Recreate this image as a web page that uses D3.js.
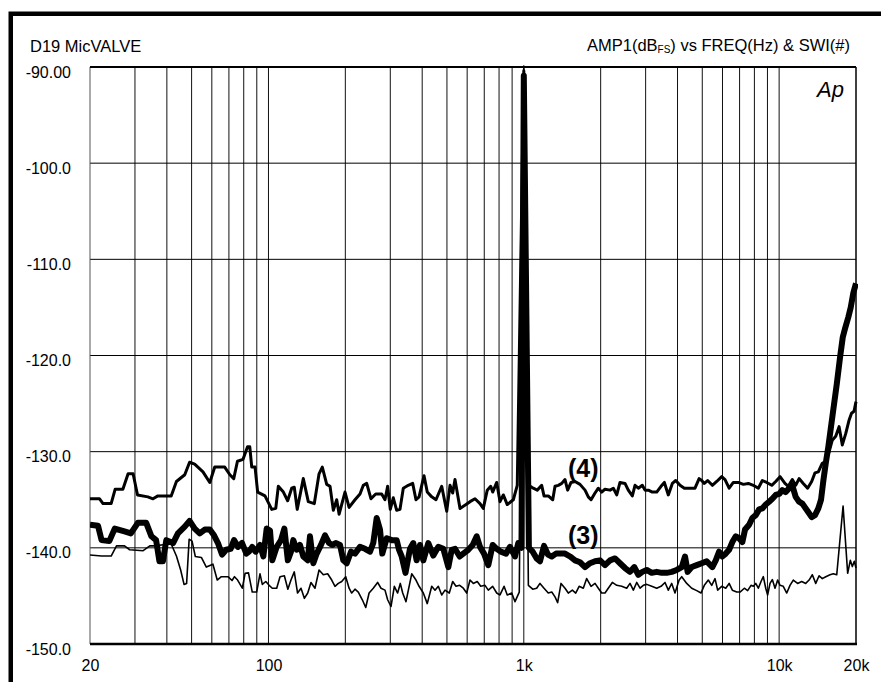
<!DOCTYPE html>
<html><head><meta charset="utf-8">
<script src="https://cdn.jsdelivr.net/npm/d3@7"></script>
<style>
html,body{margin:0;padding:0;background:#fff;}
svg{display:block;font-family:"Liberation Sans",Arial,Helvetica,sans-serif;}
</style></head><body>
<svg id="chart" width="881" height="682"></svg>
<script>
// ---------- data ----------
const chartTitle = "D19 MicVALVE";
const axisTitleA = "AMP1(dB", axisTitleSub = "FS", axisTitleB = ") vs FREQ(Hz) & SWI(#)";
const logoText = "Ap";
const xDomain = [20, 20000];
const yDomain = [-150, -90];
const xTicks = [20, 100, 1000, 10000, 20000];
const xTickLabels = ["20", "100", "1k", "10k", "20k"];
const xGridFreqs = [30,40,50,60,70,80,90,100,200,300,400,500,600,700,800,900,1000,2000,3000,4000,5000,6000,7000,8000,9000,10000];
const yTicks = [-90, -100, -110, -120, -130, -140, -150];
const yTickLabels = ["-90.00", "-100.0", "-110.0", "-120.0", "-130.0", "-140.0", "-150.0"];
const seriesLabels = ["(4)", "(3)"];
const seriesLabelHz = [1490, 1490];
const seriesLabelDb = [-132.6, -139.6];

// trace (3): [Hz, dBFS]
const trace3 = [[20,-137.6],[21.5,-137.7],[22.2,-139.2],[23.8,-139.3],[25.0,-138.0],[27.3,-138.3],[28.9,-138.5],[30.8,-137.4],[33.2,-137.4],[34.8,-138.8],[36.3,-139.2],[37.4,-141.4],[38.6,-141.4],[39.8,-139.2],[42.3,-139.5],[44.2,-138.5],[47.0,-137.8],[49.1,-137.2],[51.4,-138.0],[53.8,-138.5],[56.3,-138.1],[58.9,-138.1],[61.2,-138.7],[63.4,-139.5],[65.8,-140.7],[68.3,-140.2],[71.1,-140.1],[73.3,-139.2],[76.0,-139.9],[78.8,-139.5],[81.9,-140.6],[83.9,-140.4],[86.4,-139.9],[89.1,-140.4],[92.65,-139.7],[95.5,-140.9],[98.4,-138.0],[101.4,-138.2],[103.5,-141.3],[107.7,-139.9],[112,-139.2],[115.4,-138.0],[119.1,-141.3],[122.5,-140.4],[125.1,-139.2],[129.0,-140.2],[132.9,-139.7],[136.9,-140.9],[142.5,-141.3],[145.4,-138.8],[149.8,-141.6],[154.5,-140.6],[160.6,-139.7],[166.5,-138.7],[172.7,-139.5],[177.9,-139.7],[183.4,-139.5],[190.6,-139.7],[196.4,-141.3],[202.5,-141.6],[210.5,-140.4],[218.2,-140.6],[228.3,-139.9],[238.8,-140.1],[249.8,-140.4],[257.3,-139.5],[265.4,-136.9],[273.4,-138.1],[279.1,-140.6],[290.4,-139.0],[303.8,-139.2],[317.8,-139.2],[324.5,-140.2],[332.5,-140.9],[344,-142.6],[358.3,-140.1],[369.1,-139.5],[380.6,-141.3],[392.2,-139.7],[404.1,-141.3],[422.7,-139.5],[442.2,-140.8],[462.6,-139.9],[483.9,-140.1],[506.2,-142.0],[522,-140.2],[537.7,-140.1],[560.9,-140.9],[579.5,-140.6],[606.2,-140.2],[630.7,-139.7],[654,-138.8],[673.7,-139.9],[698.6,-140.6],[726,-141.8],[755.4,-139.7],[783.2,-140.1],[812,-140.4],[851.8,-140.6],[883,-139.9],[923.7,-140.9],[951.6,-139.5],[979.5,-140.0],[1000,-90.9],[1047,-140.0],[1083.5,-140.4],[1123,-141.1],[1157,-141.4],[1200,-139.8],[1243,-140.7],[1287,-140.9],[1337,-140.6],[1386,-140.6],[1450,-140.6],[1517,-140.9],[1587,-141.3],[1660,-141.5],[1737,-142.0],[1817,-141.6],[1901,-141.4],[1988,-141.3],[2080,-141.8],[2176,-141.3],[2276,-141.1],[2381,-141.6],[2491,-142.1],[2606,-142.5],[2709,-142.0],[2809,-142.8],[2912,-142.5],[3030,-142.3],[3169,-142.6],[3315,-142.5],[3469,-142.6],[3629,-142.6],[3796,-142.5],[3971,-142.3],[4154,-142.0],[4280,-140.9],[4382,-142.5],[4546,-142.0],[4756,-141.8],[4975,-141.6],[5204,-141.4],[5475,-142.0],[5646,-141.3],[5820,-140.4],[5991,-140.9],[6178,-140.6],[6370,-140.2],[6557,-139.4],[6762,-138.8],[6971,-139.0],[7176,-139.4],[7352,-138.1],[7629,-137.6],[7853,-136.9],[8098,-136.6],[8349,-136.0],[8594,-135.9],[8862,-135.5],[9137,-135.2],[9404,-134.9],[9698,-134.5],[10000,-134.4],[10290,-134.0],[10610,-134.2],[10940,-133.8],[11260,-133.5],[11610,-134.7],[11970,-135.2],[12320,-135.4],[12710,-135.9],[13100,-136.4],[13410,-136.8],[13820,-136.6],[14240,-135.9],[14590,-135.0],[14900,-133.0],[15230,-131.2],[15580,-129.5],[16210,-126.1],[16810,-123.0],[17320,-120.2],[17750,-118.1],[18120,-117.2],[18670,-116.0],[19070,-115.0],[19520,-113.5],[20000,-112.5]];

// trace (4): [Hz, dBFS]
const trace4 = [[20,-134.9],[21.8,-134.9],[22.5,-135.4],[24.2,-135.4],[25.1,-133.9],[26.9,-133.9],[28.2,-132.3],[29.5,-132.3],[30.7,-134.5],[33.7,-134.7],[35.3,-134.9],[36.9,-134.6],[41.6,-134.6],[43.6,-133.1],[47.0,-132.4],[49.1,-131.1],[51.4,-131.3],[55.4,-132.1],[58.9,-133.2],[61.6,-131.6],[67.4,-131.6],[70.6,-132.4],[73.1,-132.8],[75.6,-131.0],[79.5,-130.8],[82.8,-129.5],[84.5,-129.5],[86.0,-131.6],[88.6,-131.6],[90.7,-134.2],[96.9,-134.6],[103,-136.0],[106.8,-135.9],[109.3,-133.6],[114.4,-134.2],[118.9,-135.1],[123.3,-133.8],[126.2,-133.7],[129.6,-136.0],[136.9,-132.8],[143.2,-135.2],[151.2,-135.4],[157.8,-132.3],[162.5,-131.6],[169.1,-133.4],[174.2,-133.6],[179.5,-136.1],[185,-135.0],[189.1,-136.5],[199.4,-134.2],[206.9,-135.8],[218.2,-135.0],[228.3,-134.4],[235.2,-133.5],[242.5,-133.3],[252.1,-134.9],[263,-134.4],[277.6,-134.4],[286,-135.0],[292.9,-133.6],[300,-136.0],[308.2,-134.8],[317.8,-136.1],[327.4,-136.0],[337.3,-133.8],[352.8,-133.5],[367.1,-133.3],[378.2,-135.0],[388.9,-134.7],[406.7,-132.5],[418.7,-134.2],[435.9,-134.7],[453,-135.0],[477,-133.6],[499,-136.2],[514,-133.5],[526.6,-134.3],[537.7,-132.9],[562.5,-135.9],[593.8,-135.5],[615.6,-135.2],[644,-134.9],[673.7,-135.4],[694,-135.9],[719.2,-134.0],[742,-133.6],[755.4,-134.2],[783.2,-133.2],[806.9,-135.2],[831.3,-134.5],[861.4,-135.5],[909.7,-135.0],[942.7,-133.5],[1000,-90.4],[1045,-133.5],[1089,-133.8],[1129,-134.0],[1175,-133.5],[1200,-134.6],[1247,-134.6],[1298,-135.0],[1325,-133.6],[1365,-133.5],[1408,-133.3],[1450,-132.9],[1485,-134.0],[1531,-133.2],[1587,-133.1],[1660,-133.4],[1737,-134.0],[1789,-134.7],[1834,-135.0],[1901,-134.3],[1958,-133.8],[2019,-134.2],[2080,-133.9],[2176,-134.0],[2242,-133.8],[2312,-134.5],[2381,-133.2],[2491,-133.3],[2566,-134.0],[2661,-134.6],[2726,-133.5],[2809,-133.8],[2912,-133.5],[2983,-134.0],[3074,-134.0],[3187,-134.2],[3315,-134.2],[3447,-133.6],[3552,-133.2],[3681,-134.5],[3817,-133.3],[3936,-133.0],[4091,-133.5],[4253,-133.8],[4477,-133.8],[4683,-133.8],[4860,-132.8],[4975,-133.0],[5093,-133.3],[5248,-133.0],[5475,-133.5],[5696,-133.1],[5959,-132.6],[6138,-132.9],[6370,-133.8],[6616,-133.2],[6921,-133.2],[7240,-133.4],[7574,-133.3],[7923,-133.5],[8289,-133.8],[8594,-133.0],[8941,-133.2],[9354,-133.5],[9698,-133.1],[10080,-132.6],[10540,-133.3],[10860,-133.6],[11260,-132.9],[11610,-133.5],[11970,-132.8],[12430,-133.3],[12930,-133.8],[13410,-133.1],[13820,-132.2],[14240,-132.1],[14760,-131.2],[15230,-131.0],[15700,-130.0],[16150,-128.8],[16660,-128.4],[17170,-127.4],[17680,-129.3],[18240,-128.1],[18800,-126.7],[19210,-126.0],[19650,-125.8],[20000,-124.8]];

// unlabelled thin trace: [Hz, dBFS]
const traceThin = [[20,-140.75],[22.2,-140.85],[24.2,-140.85],[25.4,-139.8],[27.3,-139.8],[28.6,-140.2],[32.3,-140.3],[34.3,-139.8],[36.3,-139.8],[38.0,-139.7],[41.6,-139.6],[43.6,-140.85],[45.3,-142.3],[46.7,-143.8],[47.8,-143.7],[48.9,-139.1],[50.2,-139.3],[51.7,-140.9],[54.6,-141.0],[57.1,-142.0],[60.6,-141.7],[63.0,-143.35],[65.4,-143.0],[69.4,-143.0],[72.0,-143.4],[73.6,-143.0],[75.7,-143.35],[79.0,-144.2],[81.0,-142.65],[83.5,-142.6],[86.4,-144.6],[89.9,-144.6],[92.65,-142.7],[94.6,-143.8],[97.6,-143.5],[100.6,-143.9],[103.5,-144.2],[107.7,-144.2],[111,-143.0],[115.4,-142.9],[119.1,-144.3],[122.5,-143.35],[126.2,-142.5],[130.0,-144.7],[134.1,-144.2],[138.2,-145.25],[142.5,-144.7],[146.7,-143.6],[152.1,-144.2],[157.8,-142.3],[164,-142.8],[170.5,-142.7],[176.9,-143.35],[182.2,-144.0],[187.7,-143.7],[193.6,-143.5],[200.7,-143.0],[206.9,-144.2],[211.8,-144.7],[218.2,-144.3],[224.8,-144.6],[233.1,-145.4],[240.4,-146.2],[247.8,-144.7],[257.3,-144.2],[267.6,-143.6],[275.9,-144.2],[286,-144.4],[292.9,-145.4],[301.9,-146.1],[311.1,-144.0],[320.5,-144.7],[328.3,-143.7],[335.5,-144.7],[345.6,-145.6],[363.9,-142.7],[378.2,-143.35],[388.9,-144.0],[404.1,-144.7],[418.7,-145.8],[435.9,-144.0],[449,-144.4],[462.6,-144.0],[477,-144.9],[491.4,-144.4],[510.7,-144.7],[526.6,-143.5],[542.6,-144.0],[560.9,-143.9],[579.5,-144.2],[597.5,-144.7],[615.6,-143.35],[634.2,-143.7],[657.2,-143.5],[678,-144.0],[704.8,-143.9],[726,-144.4],[755.4,-144.0],[783.2,-144.7],[806.9,-144.9],[836.8,-144.0],[861.4,-144.9],[896.7,-144.7],[923.7,-145.6],[960,-144.6],[1000,-89.9],[1042,-143.9],[1083.5,-144.3],[1123,-144.2],[1157,-143.7],[1200,-144.2],[1247,-144.7],[1287,-144.6],[1325,-145.1],[1357,-145.7],[1399,-143.7],[1450,-144.2],[1494,-144.7],[1549,-144.4],[1597,-144.7],[1647,-144.0],[1710,-144.2],[1763,-143.2],[1834,-144.0],[1901,-143.7],[1958,-144.2],[2019,-144.7],[2080,-144.7],[2142,-144.2],[2222,-143.6],[2312,-143.9],[2418,-144.0],[2529,-144.2],[2606,-143.7],[2685,-144.4],[2768,-143.6],[2852,-144.2],[2938,-143.9],[3030,-143.8],[3169,-144.0],[3315,-144.2],[3447,-144.0],[3573,-143.6],[3681,-144.4],[3796,-143.7],[3910,-144.7],[4058,-143.35],[4154,-143.0],[4346,-143.7],[4546,-144.2],[4756,-144.45],[4944,-144.7],[5093,-143.9],[5280,-143.35],[5445,-143.9],[5609,-143.2],[5744,-144.4],[5959,-144.0],[6178,-144.2],[6370,-143.7],[6557,-144.4],[6822,-144.6],[7028,-144.6],[7307,-144.2],[7528,-144.45],[7761,-143.9],[7923,-144.0],[8098,-143.7],[8289,-144.2],[8494,-143.5],[8671,-143.0],[8862,-144.2],[9016,-144.9],[9211,-143.7],[9404,-143.3],[9636,-144.2],[9867,-143.35],[10080,-143.9],[10380,-144.0],[10710,-144.7],[11030,-143.9],[11360,-143.35],[11810,-143.7],[12260,-143.5],[12710,-143.7],[13100,-143.35],[13490,-142.8],[13910,-143.7],[14340,-142.9],[14760,-143.2],[15230,-143.0],[15820,-142.8],[16300,-142.7],[16810,-142.8],[17800,-135.65],[18550,-142.65],[19000,-141.3],[19350,-141.95],[19700,-141.4],[20000,-142.1]];

// ---------- drawing ----------
const svg = d3.select("#chart");
const L = 90, R = 856, T = 67, B = 644;
const x = d3.scaleLog().domain(xDomain).range([L, R]);
const y = d3.scaleLinear().domain(yDomain).range([B, T]);

svg.append("rect").attr("width", 881).attr("height", 682).attr("fill", "#fff");
// outer frame (extends beyond the picture on right and bottom)
svg.append("rect").attr("x", 10.75).attr("y", 13.75).attr("width", 2000).attr("height", 2000)
  .attr("fill", "none").attr("stroke", "#000").attr("stroke-width", 4.5);

// vertical grid
svg.append("g").selectAll("line").data(xGridFreqs).join("line")
  .attr("x1", d => x(d)).attr("x2", d => x(d)).attr("y1", T).attr("y2", B)
  .attr("stroke", "#111").attr("stroke-width", 1);
// horizontal grid
svg.append("g").selectAll("line").data(yTicks.filter(v => v > yDomain[0] && v < yDomain[1])).join("line")
  .attr("x1", L).attr("x2", R).attr("y1", d => y(d)).attr("y2", d => y(d))
  .attr("stroke", "#000").attr("stroke-width", 1);
// plot border
svg.append("line").attr("x1", L).attr("x2", L).attr("y1", T).attr("y2", B).attr("stroke", "#555").attr("stroke-width", 1);
svg.append("line").attr("x1", R).attr("x2", R).attr("y1", T).attr("y2", B).attr("stroke", "#000").attr("stroke-width", 1.5);
svg.append("line").attr("x1", L).attr("x2", R).attr("y1", y(yDomain[1])).attr("y2", y(yDomain[1])).attr("stroke", "#000").attr("stroke-width", 2);
svg.append("line").attr("x1", L).attr("x2", R + 1).attr("y1", y(yDomain[0])).attr("y2", y(yDomain[0])).attr("stroke", "#000").attr("stroke-width", 2.5);

// axes labels via d3 axes (domain/ticks hidden, labels kept)
const yAxis = d3.axisLeft(y).tickValues(yTicks).tickFormat((d, i) => yTickLabels[i]).tickSize(0).tickPadding(0);
const gy = svg.append("g").attr("transform", `translate(71,5)`).call(yAxis);
gy.select(".domain").remove();
gy.selectAll("text").attr("font-size", 16).attr("font-family", '"Liberation Sans",Arial,sans-serif').attr("fill", "#000");

const xAxis = d3.axisBottom(x).tickValues(xTicks).tickFormat((d, i) => xTickLabels[i]).tickSize(0).tickPadding(0);
const gx = svg.append("g").attr("transform", `translate(0,${B + 16})`).call(xAxis);
gx.select(".domain").remove();
gx.selectAll("text").attr("font-size", 16).attr("font-family", '"Liberation Sans",Arial,sans-serif').attr("fill", "#000");

// traces
const line = d3.line().x(d => x(d[0])).y(d => y(d[1]));
const clip = svg.append("clipPath").attr("id", "clip").append("rect")
  .attr("x", L).attr("y", T - 3).attr("width", R - L + 2).attr("height", B - T + 3);
const gp = svg.append("g").attr("clip-path", "url(#clip)");
gp.append("path").datum(traceThin).attr("d", line).attr("fill", "none")
  .attr("stroke", "#000").attr("stroke-width", 1.6).attr("stroke-linejoin", "round");
gp.append("path").datum(trace4).attr("d", line).attr("fill", "none")
  .attr("stroke", "#000").attr("stroke-width", 3).attr("stroke-linejoin", "round");
gp.append("path").datum(trace3).attr("d", line).attr("fill", "none")
  .attr("stroke", "#000").attr("stroke-width", 6).attr("stroke-linejoin", "round");

// series labels
svg.append("g").selectAll("text").data(seriesLabels).join("text")
  .attr("x", (d, i) => x(seriesLabelHz[i])).attr("y", (d, i) => y(seriesLabelDb[i]))
  .attr("font-size", 25).attr("font-weight", "bold").attr("fill", "#000")
  .text(d => d);

// titles
svg.append("text").attr("x", 30).attr("y", 52).attr("font-size", 16.5).attr("fill", "#000").text(chartTitle);
const t2 = svg.append("text").attr("x", 850).attr("y", 51).attr("text-anchor", "end").attr("font-size", 16.5).attr("fill", "#000");
t2.append("tspan").text(axisTitleA);
t2.append("tspan").attr("font-size", 10).attr("dy", 2).text(axisTitleSub);
t2.append("tspan").attr("dy", -2).text(axisTitleB);
svg.append("text").attr("x", 844).attr("y", 97).attr("text-anchor", "end").attr("font-size", 22)
  .attr("font-style", "italic").attr("fill", "#000").text(logoText);
</script>
</body></html>
